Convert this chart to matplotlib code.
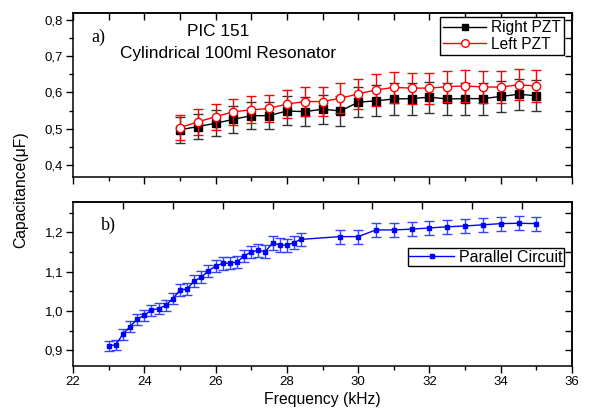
import numpy as np
import matplotlib
matplotlib.use("Agg")
import matplotlib.pyplot as plt
from matplotlib.lines import Line2D
from matplotlib.ticker import FuncFormatter, MultipleLocator, FixedLocator

plt.rcParams['font.family'] = ['Liberation Sans', 'DejaVu Sans']

# ---- data ----
freq_pzt = [25.0, 25.5, 26.0, 26.5, 27.0, 27.5, 28.0, 28.5, 29.0, 29.5, 30.0,
            30.5, 31.0, 31.5, 32.0, 32.5, 33.0, 33.5, 34.0, 34.5, 35.0]
right_pzt = [0.497, 0.506, 0.515, 0.526, 0.536, 0.536, 0.549, 0.547, 0.554, 0.549, 0.573,
             0.577, 0.582, 0.583, 0.587, 0.582, 0.583, 0.583, 0.589, 0.595, 0.591]
right_err = [0.035, 0.035, 0.036, 0.037, 0.037, 0.037, 0.040, 0.040, 0.040, 0.041, 0.042,
             0.043, 0.044, 0.044, 0.043, 0.044, 0.044, 0.044, 0.043, 0.042, 0.043]
left_pzt = [0.503, 0.519, 0.533, 0.547, 0.552, 0.556, 0.568, 0.575, 0.575, 0.584, 0.596,
            0.607, 0.614, 0.612, 0.612, 0.616, 0.618, 0.615, 0.615, 0.621, 0.618]
left_err = [0.035, 0.035, 0.036, 0.036, 0.037, 0.037, 0.039, 0.040, 0.040, 0.041, 0.042,
            0.043, 0.043, 0.043, 0.043, 0.043, 0.043, 0.043, 0.043, 0.043, 0.043]

freq_par = [23.0, 23.2, 23.4, 23.6, 23.8, 24.0, 24.2, 24.4, 24.6, 24.8,
            25.0, 25.2, 25.4, 25.6, 25.8, 26.0, 26.2, 26.4, 26.6, 26.8,
            27.0, 27.2, 27.4, 27.6, 27.8, 28.0, 28.2, 28.4,
            29.5, 30.0, 30.5, 31.0, 31.5, 32.0, 32.5, 33.0, 33.5, 34.0, 34.5, 35.0]
parallel = [0.911, 0.914, 0.941, 0.960, 0.979, 0.989, 1.002, 1.006, 1.014, 1.031,
            1.053, 1.056, 1.076, 1.086, 1.102, 1.114, 1.121, 1.122, 1.124, 1.140,
            1.150, 1.154, 1.151, 1.173, 1.168, 1.167, 1.174, 1.182,
            1.189, 1.189, 1.206, 1.206, 1.208, 1.211, 1.214, 1.216, 1.219, 1.222, 1.223, 1.222]
parallel_err = [0.013, 0.013, 0.014, 0.014, 0.014, 0.014, 0.014, 0.014, 0.014, 0.014,
                0.015, 0.015, 0.015, 0.015, 0.015, 0.015, 0.016, 0.016, 0.016, 0.016,
                0.016, 0.016, 0.016, 0.017, 0.017, 0.017, 0.017, 0.017,
                0.018, 0.018, 0.018, 0.018, 0.018, 0.018, 0.018, 0.018, 0.018, 0.018, 0.018, 0.018]

xticks = [22, 24, 26, 28, 30, 32, 34, 36]
yticks_a = [0.4, 0.5, 0.6, 0.7, 0.8]
yticks_b = [0.9, 1.0, 1.1, 1.2]

comma = FuncFormatter(lambda v, p: f"{v:.1f}".replace('.', ','))

W, H = 589, 416
fig = plt.figure(figsize=(W / 100, H / 100), dpi=100)
ax_a = fig.add_axes([73/W, 1 - 177/H, 499/W, 164/H])
ax_b = fig.add_axes([73/W, 1 - 366/H, 499/W, 164/H])


def style_axes(ax, ylim, yticks, top_ticks, right_step, show_xlabels):
    ax.set_xlim(22, 36)
    ax.set_ylim(*ylim)
    ax.set_xticks(xticks)
    ax.xaxis.set_minor_locator(MultipleLocator(1))
    ax.set_yticks(yticks)
    ax.yaxis.set_minor_locator(MultipleLocator(0.05))
    ax.yaxis.set_major_formatter(comma)
    ax.tick_params(which='both', direction='out', top=False, right=False,
                   width=1.0, labelsize=9.5, pad=2)
    ax.tick_params(which='major', length=5)
    ax.tick_params(which='minor', length=3)
    if not show_xlabels:
        ax.tick_params(axis='x', labelbottom=False)
    for s in ax.spines.values():
        s.set_linewidth(1.1)
    # inward ticks on the top and right frame lines
    top = ax.secondary_xaxis('top')
    top.xaxis.set_major_locator(FixedLocator(top_ticks))
    top.tick_params(direction='in', length=5, width=1.0, labeltop=False)
    top.spines['top'].set_linewidth(1.1)
    right = ax.secondary_yaxis('right')
    right.yaxis.set_major_locator(MultipleLocator(right_step))
    right.tick_params(direction='in', length=5, width=1.0, labelright=False)
    right.spines['right'].set_linewidth(1.1)


style_axes(ax_a, (0.367, 0.819), yticks_a, np.arange(22, 36.5, 1.0), 0.05, False)
style_axes(ax_b, (0.86, 1.277), yticks_b, [22 + 1.4 * k for k in range(1, 10)], 0.05, True)

# ---- panel a ----
ax_a.errorbar(freq_pzt, right_pzt, yerr=right_err, color='black', ecolor='#333333',
              elinewidth=1.0, capsize=3.5, capthick=1.0, lw=1.0, marker='s', ms=5.5,
              mfc='black', mec='black', zorder=3)
ax_a.errorbar(freq_pzt, left_pzt, yerr=left_err, color='red', ecolor='red',
              elinewidth=1.0, capsize=3.5, capthick=1.0, lw=1.0, marker='o', ms=6,
              mfc='white', mec='red', mew=1.0, zorder=4)

handles_a = [Line2D([], [], color='black', lw=1.0, marker='s', ms=5, mfc='black', mec='black'),
             Line2D([], [], color='red', lw=1.0, marker='o', ms=5.5, mfc='white', mec='red')]
leg_a = ax_a.legend(handles_a, ['Right PZT', 'Left PZT'], loc='upper right',
                    bbox_to_anchor=(0.984, 0.976), fontsize=11.2,
                    frameon=True, fancybox=False, edgecolor='black', framealpha=1,
                    borderpad=0.2, labelspacing=0.1, handlelength=2.8, handletextpad=0.3,
                    borderaxespad=0)
leg_a.get_frame().set_linewidth(1.0)

fig.text(98/W, 1 - 37/H, 'a)', fontsize=13, family='Liberation Serif',
         ha='center', va='center')
ax_a.text(0.29, 0.885, 'PIC 151', transform=ax_a.transAxes, fontsize=12.4,
          ha='center', va='center')
ax_a.text(0.31, 0.755, 'Cylindrical 100ml Resonator', transform=ax_a.transAxes,
          fontsize=12.4, ha='center', va='center')

# ---- panel b ----
ax_b.errorbar(freq_par, parallel, yerr=parallel_err, color='blue', ecolor='#3344ff',
              elinewidth=1.0, capsize=3.5, capthick=1.0, lw=1.0, marker='s', ms=3,
              mfc='blue', mec='blue', zorder=3)
handles_b = [Line2D([], [], color='blue', lw=1.0, marker='s', ms=3, mfc='blue', mec='blue')]
leg_b = ax_b.legend(handles_b, ['Parallel Circuit'], loc='upper right',
                    bbox_to_anchor=(0.984, 0.72), fontsize=11.5,
                    frameon=True, fancybox=False, edgecolor='black', framealpha=1,
                    borderpad=0.1, handlelength=2.8, handletextpad=0.3, borderaxespad=0)
leg_b.get_frame().set_linewidth(1.0)

ax_b.set_xlabel('Frequency (kHz)', fontsize=11.3, labelpad=3)

fig.text(21/W, 1 - 190/H, 'Capacitance(μF)', rotation=90, fontsize=11.3,
         ha='center', va='center')
fig.text(108/W, 1 - 225/H, 'b)', fontsize=13, family='Liberation Serif',
         ha='center', va='center')

fig.savefig('out.png', dpi=100)
